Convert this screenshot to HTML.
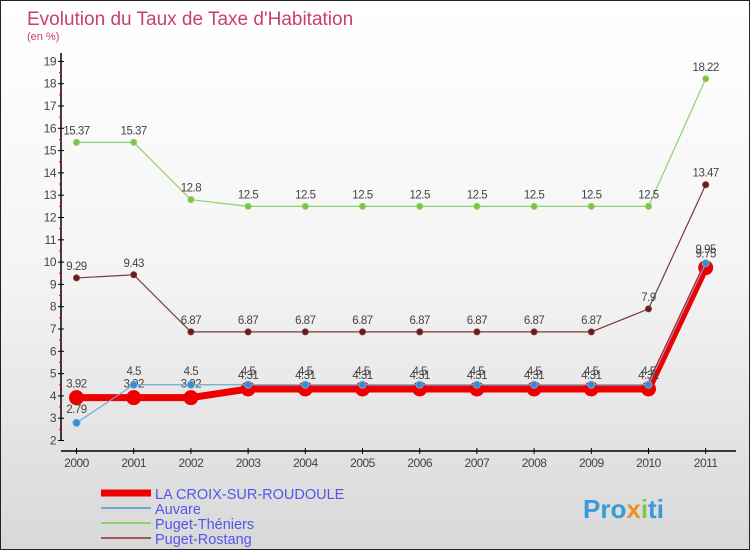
<!DOCTYPE html>
<html><head><meta charset="utf-8"><style>
body{margin:0}
#c{width:750px;height:550px;position:relative;background:linear-gradient(#fff 0%,#f4f4f4 50%,#d8d8d8 100%);border:1px solid #222;box-sizing:border-box;overflow:hidden;font-family:"Liberation Sans",sans-serif}
</style></head><body>
<div id="c">
<svg id="s" width="750" height="550" style="position:absolute;left:0;top:0">
<text x="26" y="24" font-size="19" fill="#c8406e">Evolution du Taux de Taxe d'Habitation</text>
<text x="26" y="39" font-size="11" fill="#c8406e">(en %)</text>
<g id="axes"></g><g id="series"></g><g id="legend"></g>
<text x="582" y="517" font-size="26" font-weight="bold" fill="#3a9ad9">Pro<tspan fill="#e8932a">x</tspan><tspan fill="#8bc34a">i</tspan>ti</text>
</svg>
</div>
<script>
const years=[2000,2001,2002,2003,2004,2005,2006,2007,2008,2009,2010,2011];
const yTicks=[2,3,4,5,6,7,8,9,10,11,12,13,14,15,16,17,18,19];
const laCroix=[3.92,3.92,3.92,4.31,4.31,4.31,4.31,4.31,4.31,4.31,4.31,9.75];
const auvare=[2.79,4.5,4.5,4.5,4.5,4.5,4.5,4.5,4.5,4.5,4.5,9.95];
const puget=[15.37,15.37,12.8,12.5,12.5,12.5,12.5,12.5,12.5,12.5,12.5,18.22];
const rostang=[9.29,9.43,6.87,6.87,6.87,6.87,6.87,6.87,6.87,6.87,7.9,13.47];
const names=["LA CROIX-SUR-ROUDOULE","Auvare","Puget-Théniers","Puget-Rostang"];
const NS="http://www.w3.org/2000/svg";
const X=i=>75.5+i*57.2;
const Y=v=>439.5-(v-2)*22.3;
function mk(t,a,p){const e=document.createElementNS(NS,t);for(const k in a)e.setAttribute(k,a[k]);p.appendChild(e);return e;}
const ax=document.getElementById('axes');
let e=mk('line',{x1:60,y1:52,x2:60,y2:440,stroke:'#000','stroke-width':1.5},ax);

e=mk('line',{x1:60,y1:450,x2:735,y2:450,stroke:'#000','stroke-width':1.5},ax);

yTicks.forEach(v=>{
 mk('line',{x1:57,y1:Y(v),x2:63,y2:Y(v),stroke:'#000'},ax);
 if(v<19)mk('line',{x1:58,y1:Y(v+0.5),x2:61,y2:Y(v+0.5),stroke:'#e00'},ax);
 const t=mk('text',{x:55,y:Y(v)+4,'font-size':12,fill:'#444','text-anchor':'end','letter-spacing':'-0.5'},ax);t.textContent=v;
 
});
years.forEach((y,i)=>{
 mk('line',{x1:X(i),y1:447,x2:X(i),y2:453,stroke:'#000'},ax);
 const t=mk('text',{x:X(i),y:466,'font-size':12,fill:'#444','text-anchor':'middle','letter-spacing':'-0.5'},ax);t.textContent=y;
 
});
const sg=document.getElementById('series');
function series(d,col,w,r,dot,name,lblOff){
 const g=mk('g',{},sg);
 mk('polyline',{points:d.map((v,i)=>X(i)+','+Y(v)).join(' '),fill:'none',stroke:col,'stroke-width':w,'stroke-linejoin':'round'},g);
 d.forEach((v,i)=>{
  const c=mk('circle',{cx:X(i),cy:Y(v),r:r,fill:dot,stroke:col},g);
  
  const t=mk('text',{x:X(i),y:Y(v)+lblOff,'font-size':11.5,fill:'#444','text-anchor':'middle','letter-spacing':'-0.5'},g);t.textContent=v;
 });
}
series(puget,'#8fd16a',1.2,3,'#7dc442','puget-theniers-series',-8);
series(rostang,'#7a3a3a',1.2,3,'#6a1a1a','puget-rostang-series',-8);
series(laCroix,'#ee0000',7,7,'#ee0000','la-croix-series',-10);
series(auvare,'#6aaad8',1.2,3.5,'#3a8ad0','auvare-series',-10);
const lg=document.getElementById('legend');
const lc=['#ee0000','#6aaad8','#8fd16a','#9a5a5a'],lw=[7,2,2,2];
names.forEach((n,i)=>{
 const y=492+i*15;
 const g=mk('g',{},lg);
 mk('line',{x1:100,y1:y,x2:150,y2:y,stroke:lc[i],'stroke-width':lw[i]},g);
 const t=mk('text',{x:154,y:y+6,'font-size':14.5,fill:'#5555ee'},g);t.textContent=n;
});
</script>
</body></html>
